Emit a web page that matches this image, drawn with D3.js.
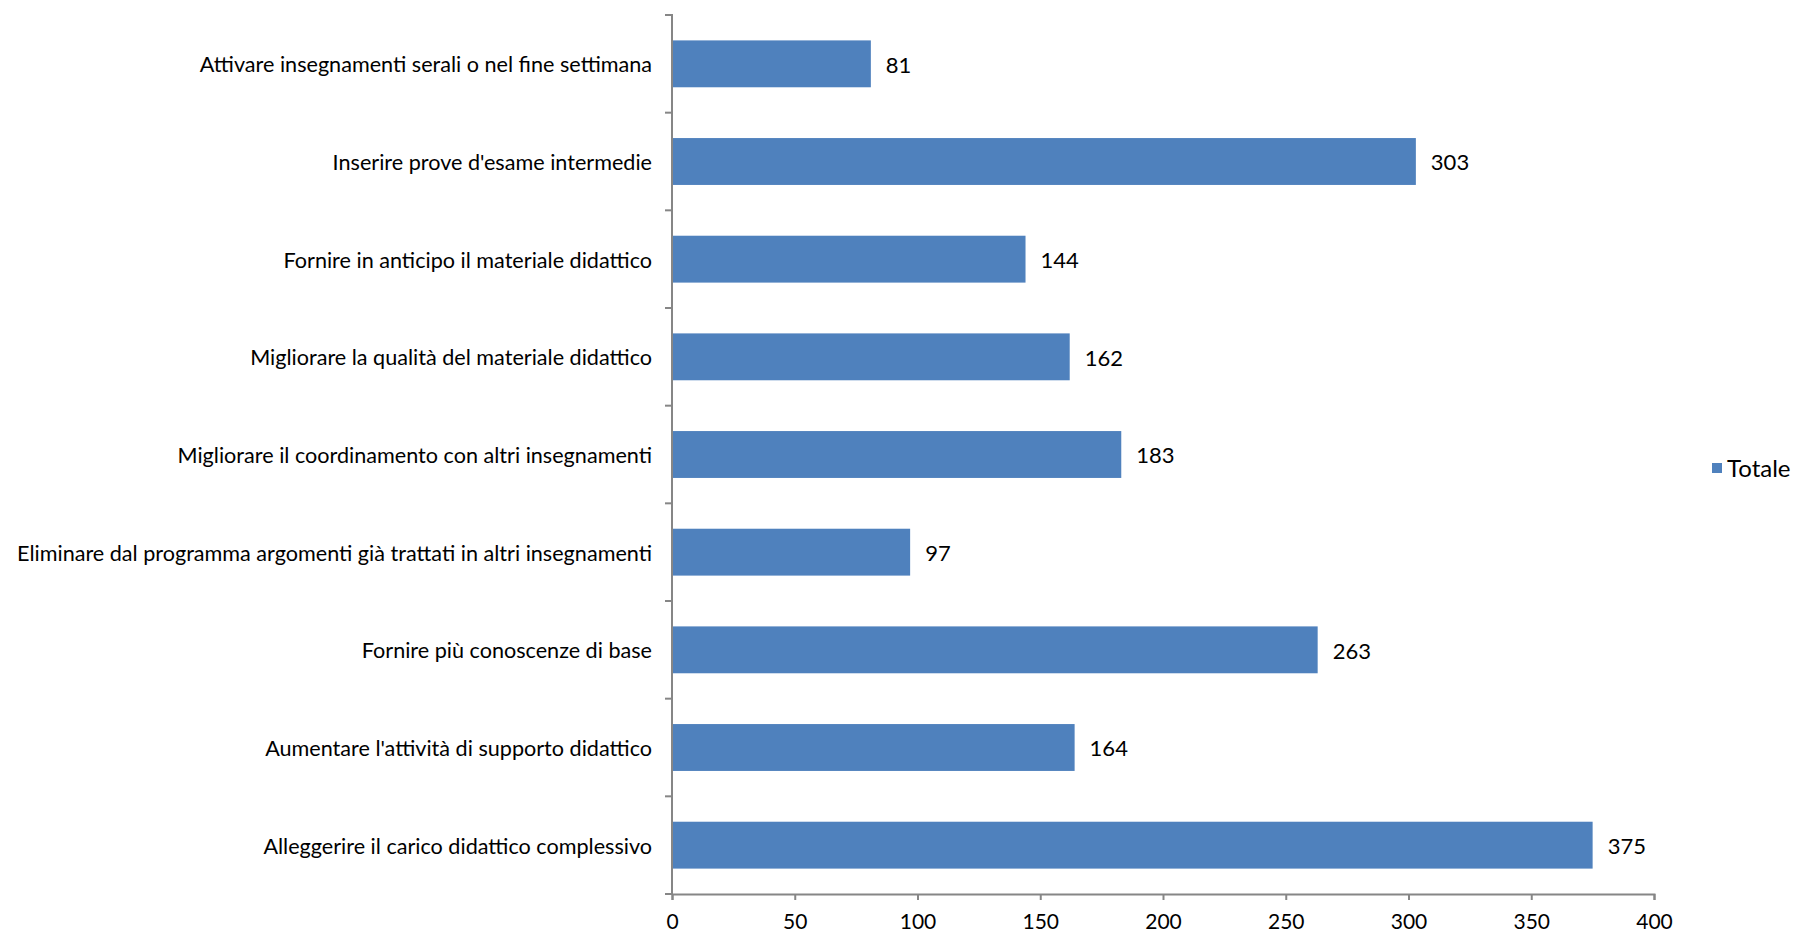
<!DOCTYPE html>
<html><head><meta charset="utf-8">
<script src="https://cdn.jsdelivr.net/npm/d3@7"></script>
<style>body{margin:0;background:#fff;} text{font-family:Lato, "Liberation Sans", sans-serif;}</style>
</head><body><svg id="c" width="1801" height="934"></svg>
<script>
const categories = [
  "Attivare insegnamenti serali o nel fine settimana",
  "Inserire prove d'esame intermedie",
  "Fornire in anticipo il materiale didattico",
  "Migliorare la qualità del materiale didattico",
  "Migliorare il coordinamento con altri insegnamenti",
  "Eliminare dal programma argomenti già trattati in altri insegnamenti",
  "Fornire più conoscenze di base",
  "Aumentare l'attività di supporto didattico",
  "Alleggerire il carico didattico complessivo"
];
const values = [81, 303, 144, 162, 183, 97, 263, 164, 375];
const xTicks = [0, 50, 100, 150, 200, 250, 300, 350, 400];
const seriesName = "Totale";

(function(){
const svg = d3.select("#c");
const mLeft = 672, mRight = 1654, mTop = 15, mBottom = 894;
const x = d3.scaleLinear().domain([0, 400]).range([mLeft, mRight]);
const y = d3.scaleBand().domain(categories).range([mTop, mBottom]).paddingInner(0.52).paddingOuter(0.26);
const color = "#4F81BD", axisColor = "#868686";
const ff = "Lato, 'Liberation Sans', sans-serif";

svg.selectAll("rect.bar").data(values).enter().append("rect")
  .attr("class","bar")
  .attr("x", x(0)).attr("y", (d,i)=>y(categories[i]))
  .attr("width", d=>x(d)-x(0)).attr("height", y.bandwidth())
  .attr("fill", color);

svg.selectAll("text.val").data(values).enter().append("text")
  .attr("class","val")
  .attr("x", d=>x(d)+15).attr("y", (d,i)=>y(categories[i])+y.bandwidth()/2 + 1)
  .attr("dy","0.35em").attr("font-size",22).attr("fill","#000")
  .text(d=>d);

const xa = svg.append("g").attr("transform",`translate(0,${mBottom})`)
  .call(d3.axisBottom(x).tickValues(xTicks).tickSize(6).tickPadding(14));
xa.select(".domain").attr("stroke",axisColor).attr("stroke-width",2);
xa.selectAll(".tick line").attr("stroke",axisColor).attr("stroke-width",2);
xa.selectAll(".tick text").attr("font-size",21).attr("fill","#000").style("font-family",ff);

const step = (mBottom-mTop)/categories.length;
const ya = svg.append("g").attr("transform",`translate(${mLeft},0)`)
  .call(d3.axisLeft(y).tickSize(0).tickPadding(20));
ya.select(".domain").attr("d", `M-7,${mTop}H0V${mBottom}`).attr("stroke",axisColor).attr("stroke-width",2).attr("fill","none");
ya.selectAll(".tick text").attr("font-size",21.6).attr("fill","#000").attr("dy","0.4em").style("font-family",ff);
d3.range(categories.length+1).forEach(i=>{
  svg.append("line").attr("x1",mLeft-7).attr("x2",mLeft).attr("y1",mTop+i*step).attr("y2",mTop+i*step)
    .attr("stroke",axisColor).attr("stroke-width",2);
});

svg.append("rect").attr("x",1712).attr("y",463).attr("width",10).attr("height",10).attr("fill",color);
svg.append("text").attr("x",1727).attr("y",469).attr("dy","0.35em").attr("font-size",24).attr("fill","#000").text(seriesName);
})();
</script></body></html>
